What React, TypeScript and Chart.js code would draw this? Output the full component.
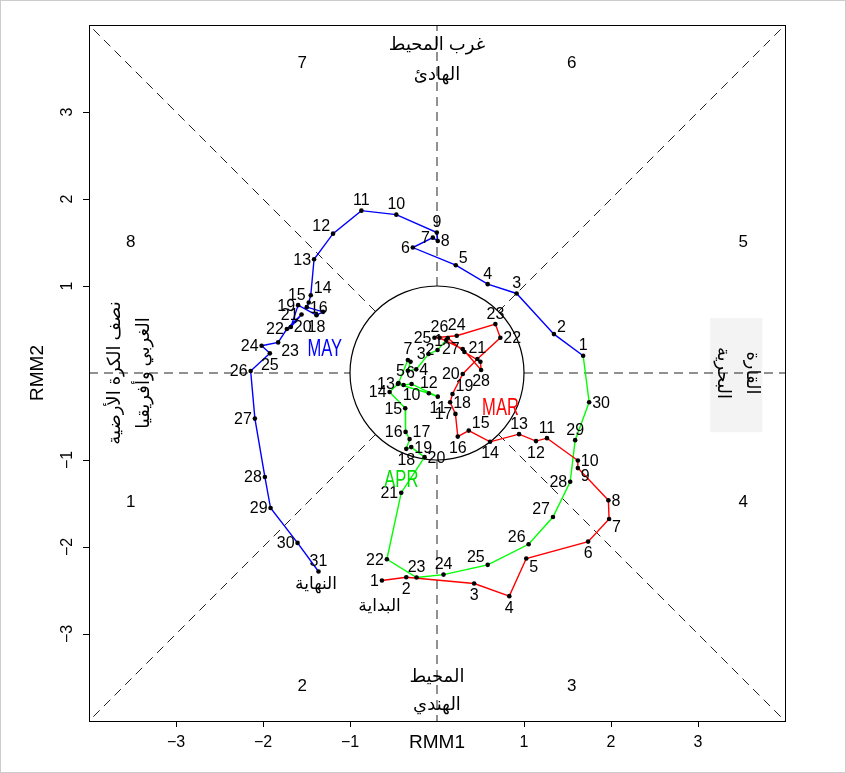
import React, { useEffect, useRef } from "react";
import { Chart, registerables } from "chart.js";
Chart.register(...registerables);

// MAR (red) RMM1 / RMM2
const marX = [-0.633, -0.353, 0.427, 0.831, 1.026, 1.737, 1.978, 1.970, 1.619, 1.619, 1.264, 1.138, 0.943, 0.610, 0.365, 0.239, 0.212, 0.151, 0.178, 0.296, 0.464, 0.728, 0.671, 0.227, -0.029, 0.029, 0.296, 0.507, 0.499, 0.315, 0.124];
const marY = [-2.385, -2.347, -2.420, -2.565, -2.133, -1.938, -1.678, -1.464, -1.093, -1.006, -0.749, -0.783, -0.703, -0.791, -0.662, -0.731, -0.470, -0.336, -0.241, -0.011, 0.161, 0.405, 0.562, 0.428, 0.405, 0.405, 0.275, 0.034, 0.130, 0.241, 0.401];
const marPos = ["l","b","b","b","br","b","br","r","br","r","t","b","t","b","tr","b","l","r","tr","l","t","r","t","t","l","t","l","b","n","n","n"];

// APR (green)
const aprX = [0.106, 0.006, -0.097, -0.239, -0.335, -0.304, -0.335, -0.442, -0.384, -0.292, 0.009, -0.094, -0.450, -0.545, -0.365, -0.361, -0.315, -0.353, -0.296, -0.143, -0.411, -0.576, -0.235, 0.075, 0.583, 1.053, 1.333, 1.531, 1.588, 1.749];
const aprY = [0.378, 0.264, 0.218, 0.042, 0.026, 0.130, 0.149, -0.115, -0.138, -0.126, -0.272, -0.233, -0.126, -0.218, -0.405, -0.677, -0.760, -0.872, -0.852, -0.967, -1.376, -2.141, -2.351, -2.317, -2.205, -1.969, -1.655, -1.250, -0.772, -0.336];
const aprPos = ["l","l","l","r","l","b","t","n","n","b","b","t","l","l","l","l","tr","b","r","r","l","l","t","t","tl","tl","tl","l","t","r"];

// MAY (blue)
const mayX = [1.680, 1.344, 0.915, 0.583, 0.216, -0.278, -0.048, 0.009, -0.002, -0.468, -0.869, -1.195, -1.413, -1.451, -1.474, -1.497, -1.310, -1.385, -1.596, -1.680, -1.557, -1.726, -1.826, -2.016, -1.921, -2.142, -2.093, -1.978, -1.913, -1.603, -1.362];
const mayY = [0.198, 0.447, 0.914, 1.021, 1.239, 1.442, 1.556, 1.517, 1.614, 1.820, 1.866, 1.602, 1.307, 0.894, 0.811, 0.757, 0.703, 0.665, 0.780, 0.528, 0.673, 0.505, 0.352, 0.313, 0.226, 0.023, -0.524, -1.196, -1.552, -1.953, -2.282];
const mayPos = ["t","tr","t","t","tr","l","l","r","t","t","t","tl","l","tr","tl","r","n","b","l","r","l","l","br","l","b","l","l","l","l","l","t"];

const monthNames = ["MAR", "APR", "MAY"];
const monthColors = ["#ff0000", "#00ff00", "#0000ff"];
const monthTextColors = ["#ff0000", "#00e000", "#0000ff"];
const monthNameX = [0.73, -0.41, -1.29];
const monthNameY = [-0.41, -1.24, 0.27];

const xTicks = [-3, -2, -1, 1, 2, 3];
const yTicks = [-3, -2, -1, 1, 2, 3];

const phaseNames = ["1", "2", "3", "4", "5", "6", "7", "8"];
const phaseX = [-3.52, -1.55, 1.55, 3.52, 3.52, 1.55, -1.55, -3.52];
const phaseY = [-1.49, -3.60, -3.60, -1.49, 1.50, 3.56, 3.56, 1.50];

const topRegion = ["غرب المحيط", "الهادئ"];
const bottomRegion = ["المحيط", "الهندي"];
const leftRegion = ["نصف الكرة الأرضية", "الغربي وأفريقيا"];
const rightRegion = ["القارة", "البحرية"];
const startText = "البداية";
const endText = "النهاية";

const FONT = "'Liberation Sans', 'DejaVu Sans', Arial, sans-serif";

function fmt(v: number) {
  return v < 0 ? "\u2212" + Math.abs(v) : String(v);
}

export default function App() {
  const ref = useRef<HTMLCanvasElement>(null);

  useEffect(() => {
    const pts = (xs: number[], ys: number[]) => xs.map((x, i) => ({ x, y: ys[i] }));
    const mar = pts(marX, marY);
    const apr = pts(aprX, aprY);
    const may = pts(mayX, mayY);
    const months = [
      { p: mar, pos: marPos },
      { p: apr, pos: aprPos },
      { p: may, pos: mayPos },
    ];

    const bgPlugin = {
      id: "bg",
      beforeDatasetsDraw(chart: any) {
        const { ctx, chartArea: a, scales } = chart;
        const X = (v: number) => scales.x.getPixelForValue(v);
        const Y = (v: number) => scales.y.getPixelForValue(v);
        ctx.save();
        ctx.fillStyle = "#fff";
        ctx.fillRect(0, 0, chart.width, chart.height);
        ctx.strokeStyle = "#cccccc";
        ctx.lineWidth = 1;
        ctx.strokeRect(0.5, 0.5, chart.width - 1, chart.height - 1);

        // right label box
        ctx.fillStyle = "#f3f3f3";
        ctx.fillRect(X(3.14), Y(0.63), X(3.74) - X(3.14), Y(-0.68) - Y(0.63));

        // dashed phase lines
        ctx.strokeStyle = "#222";
        ctx.lineWidth = 1;
        ctx.setLineDash([9, 6]);
        const r = Math.SQRT1_2;
        const segs = [
          [-4, 0, -1, 0], [1, 0, 4, 0], [0, 1, 0, 4], [0, -1, 0, -4],
          [r, r, 4, 4], [-r, r, -4, 4], [r, -r, 4, -4], [-r, -r, -4, -4],
        ];
        for (const s of segs) {
          ctx.beginPath();
          ctx.moveTo(X(s[0]), Y(s[1]));
          ctx.lineTo(X(s[2]), Y(s[3]));
          ctx.stroke();
        }
        ctx.setLineDash([]);

        // unit circle
        ctx.strokeStyle = "#000";
        ctx.lineWidth = 1.2;
        ctx.beginPath();
        ctx.arc(X(0), Y(0), X(1) - X(0), 0, Math.PI * 2);
        ctx.stroke();

        // frame
        ctx.lineWidth = 1;
        ctx.strokeRect(a.left + 0.5, a.top + 0.5, a.right - a.left, a.bottom - a.top);

        // ticks + labels
        ctx.fillStyle = "#000";
        ctx.font = `16px ${FONT}`;
        ctx.textAlign = "center";
        ctx.textBaseline = "middle";
        for (const t of xTicks) {
          const px = Math.round(X(t)) + 0.5;
          ctx.beginPath();
          ctx.moveTo(px, a.bottom);
          ctx.lineTo(px, a.bottom + 6);
          ctx.stroke();
          ctx.fillText(fmt(t), X(t), a.bottom + 22);
        }
        for (const t of yTicks) {
          const py = Math.round(Y(t)) + 0.5;
          ctx.beginPath();
          ctx.moveTo(a.left, py);
          ctx.lineTo(a.left - 6, py);
          ctx.stroke();
          ctx.save();
          ctx.translate(a.left - 21, Y(t));
          ctx.rotate(-Math.PI / 2);
          ctx.fillText(fmt(t), 0, 0);
          ctx.restore();
        }
        ctx.font = `19px ${FONT}`;
        ctx.fillText("RMM1", X(0), a.bottom + 22);
        ctx.save();
        ctx.translate(a.left - 51, Y(0));
        ctx.rotate(-Math.PI / 2);
        ctx.fillText("RMM2", 0, 0);
        ctx.restore();

        // phase numbers
        ctx.font = `17px ${FONT}`;
        for (let i = 0; i < phaseNames.length; i++) {
          ctx.fillText(phaseNames[i], X(phaseX[i]), Y(phaseY[i]));
        }

        // region names
        ctx.font = `18px ${FONT}`;
        ctx.fillText(topRegion[0], X(0), Y(3.77));
        ctx.fillText(topRegion[1], X(0), Y(3.43));
        ctx.fillText(bottomRegion[0], X(0), Y(-3.49));
        ctx.fillText(bottomRegion[1], X(0), Y(-3.82));
        ctx.save();
        ctx.translate(X(-3.70), Y(0));
        ctx.rotate(-Math.PI / 2);
        ctx.fillText(leftRegion[0], 0, 0);
        ctx.fillText(leftRegion[1], 0, 29);
        ctx.restore();
        ctx.save();
        ctx.translate(X(3.62), Y(0));
        ctx.rotate(Math.PI / 2);
        ctx.fillText(rightRegion[0], 0, 0);
        ctx.fillText(rightRegion[1], 0, 29);
        ctx.restore();
        ctx.restore();
      },
    };

    const fgPlugin = {
      id: "fg",
      afterDatasetsDraw(chart: any) {
        const { ctx, scales } = chart;
        const X = (v: number) => scales.x.getPixelForValue(v);
        const Y = (v: number) => scales.y.getPixelForValue(v);
        ctx.save();
        // dots
        ctx.fillStyle = "#000";
        for (const m of months) {
          for (const q of m.p) {
            ctx.beginPath();
            ctx.arc(X(q.x), Y(q.y), 2.3, 0, Math.PI * 2);
            ctx.fill();
          }
        }
        // day labels
        ctx.font = `16px ${FONT}`;
        for (const m of months) {
          m.p.forEach((q, i) => {
            const pos = m.pos[i];
            if (pos === "n") return;
            const px = X(q.x);
            const py = Y(q.y);
            let dx = 0, dy = 0;
            let align: CanvasTextAlign = "center";
            if (pos.includes("r")) { dx = 3; align = "left"; }
            if (pos.includes("l")) { dx = -3; align = "right"; }
            if (pos.includes("t")) dy = pos.length === 1 ? -11 : -8;
            if (pos.includes("b")) dy = pos.length === 1 ? 11 : 8;
            ctx.textAlign = align;
            ctx.textBaseline = "middle";
            ctx.fillText(String(i + 1), px + dx, py + dy + 1);
          });
        }
        // month names (condensed)
        ctx.font = `23px ${FONT}`;
        ctx.textAlign = "center";
        ctx.textBaseline = "middle";
        for (let i = 0; i < monthNames.length; i++) {
          ctx.fillStyle = monthTextColors[i];
          ctx.save();
          ctx.translate(X(monthNameX[i]), Y(monthNameY[i]));
          ctx.scale(0.72, 1);
          ctx.fillText(monthNames[i], 0, 0);
          ctx.restore();
        }
        // start / end
        ctx.fillStyle = "#000";
        ctx.font = `17px ${FONT}`;
        ctx.fillText(startText, X(-0.66), Y(-2.68));
        ctx.fillText(endText, X(-1.39), Y(-2.43));
        ctx.restore();
      },
    };

    const chart = new Chart(ref.current!, {
      type: "scatter",
      data: {
        datasets: [
          { data: [...mar, apr[0]], borderColor: monthColors[0] },
          { data: [...apr, may[0]], borderColor: monthColors[1] },
          { data: [...may], borderColor: monthColors[2] },
        ].map((d) => ({
          ...d,
          showLine: true,
          borderWidth: 1.4,
          pointRadius: 0,
          tension: 0,
          fill: false,
        })),
      },
      options: {
        responsive: false,
        animation: false,
        layout: { padding: { left: 89, top: 25, right: 846 - 785, bottom: 773 - 721 } },
        scales: {
          x: { type: "linear", min: -4, max: 4, display: false },
          y: { type: "linear", min: -4, max: 4, display: false },
        },
        plugins: { legend: { display: false }, tooltip: { enabled: false } },
      },
      plugins: [bgPlugin, fgPlugin],
    });
    return () => chart.destroy();
  }, []);

  return (
    <div style={{ position: "fixed", left: 0, top: 0 }}>
      <canvas ref={ref} width={846} height={773} style={{ display: "block", width: 846, height: 773 }} />
    </div>
  );
}
